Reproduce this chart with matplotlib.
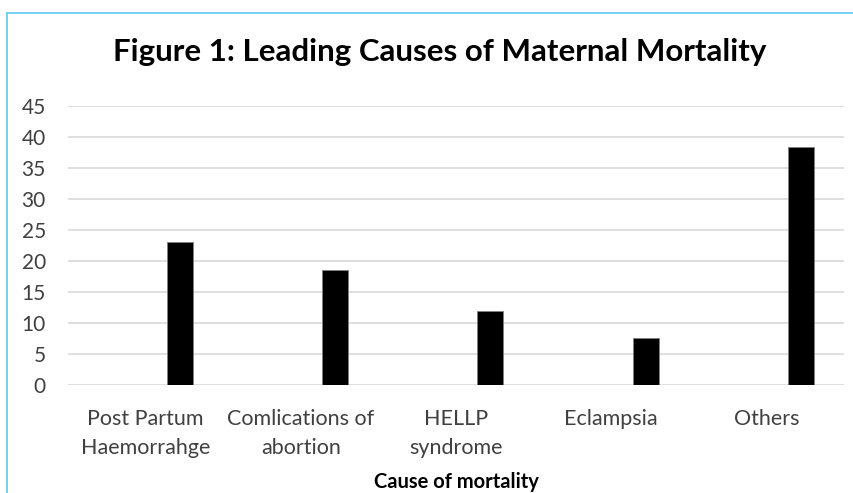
import matplotlib
matplotlib.use("Agg")
import matplotlib.pyplot as plt
import matplotlib.patches as patches
import numpy as np

plt.rcParams['font.family'] = ['Lato', 'DejaVu Sans']

causes = ['Post Partum\nHaemorrahge', 'Comlications of\nabortion', 'HELLP\nsyndrome',
          'Eclampsia', 'Others']
values = [23, 18.6, 12, 7.6, 38.3]
yticks = [0, 5, 10, 15, 20, 25, 30, 35, 40, 45]

fig = plt.figure(figsize=(8.54, 4.93), dpi=100)
ax = fig.add_axes([68/854, 1-385/493, (844-68)/854, (385-105.7)/493])

x = np.arange(len(causes))
ax.bar(x + 0.222, values, width=0.168, color='black', edgecolor='#7f7f7f', linewidth=0.6, zorder=3)

ax.set_xlim(-0.5, len(causes) - 0.5)
ax.set_ylim(0, 45)
ax.set_yticks(yticks)
ax.set_xticks(x)
ax.set_xticklabels(causes, fontsize=15.5, color='#404040', linespacing=1.6)
ax.tick_params(axis='y', labelsize=15, labelcolor='#404040', length=0, pad=16)
ax.tick_params(axis='x', length=0, pad=17)
for lab in ax.get_yticklabels():
    lab.set_horizontalalignment('right')
ax.grid(axis='y', color='#d9d9d9', linewidth=1.2, zorder=0)
for s in ax.spines.values():
    s.set_visible(False)

ax.set_xlabel('Cause of mortality', fontsize=14.5, fontweight='bold', color='black', labelpad=10)
fig.text(440/854, 1-52/493, 'Figure 1: Leading Causes of Maternal Mortality',
         fontsize=22.5, fontweight='bold', ha='center', va='center')

# light blue chart frame (cropped at right and bottom)
frame = patches.Rectangle((7/854, -0.1), 1.2, 1 - 13.3/493 + 0.1, transform=fig.transFigure,
                          fill=False, edgecolor='#5bc8f0', linewidth=1.2, clip_on=False)
fig.patches.append(frame)

fig.savefig('out.png', dpi=100)
